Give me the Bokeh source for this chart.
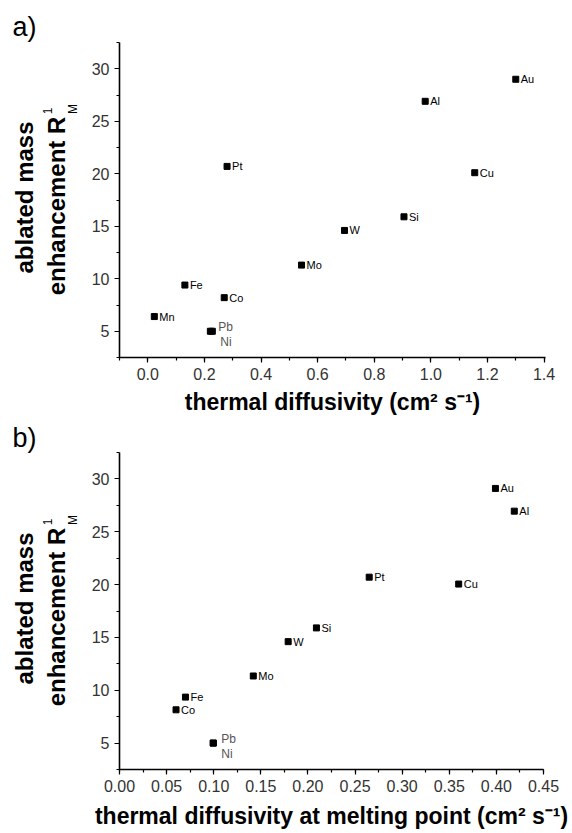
import math
from bokeh.plotting import figure
from bokeh.models import (ColumnDataSource, SingleIntervalTicker,
                          NumeralTickFormatter, Range1d, Title)
from bokeh.layouts import column, row
from bokeh.embed import file_html
from bokeh.resources import INLINE
from bokeh.core.properties import value

FONT = "Liberation Sans"

# ---- panel a) : thermal diffusivity ----
a_names = ["Au", "Al", "Pt", "Cu", "Si", "W", "Mo", "Fe", "Co", "Mn"]
a_diff = [1.30, 0.98, 0.28, 1.155, 0.905, 0.695, 0.543, 0.131, 0.270, 0.023]
a_rm = [29.0, 26.9, 20.7, 20.1, 15.9, 14.6, 11.3, 9.4, 8.2, 6.4]
a_pbni_names = ["Pb", "Ni"]
a_pbni_diff = [0.221, 0.228]
a_pbni_rm = [5.0, 5.0]

# ---- panel b) : thermal diffusivity at melting point ----
b_names = ["Au", "Al", "Pt", "Cu", "Si", "W", "Mo", "Fe", "Co"]
b_diff = [0.399, 0.419, 0.265, 0.360, 0.209, 0.179, 0.142, 0.070, 0.060]
b_rm = [29.1, 26.95, 20.7, 20.05, 15.9, 14.6, 11.35, 9.35, 8.15]
b_pbni_names = ["Pb", "Ni"]
b_pbni_diff = [0.0995, 0.0995]
b_pbni_rm = [5.0, 5.0]

a_xticks_interval = 0.2
b_xticks_interval = 0.05
y_interval = 5

STRIP = 88  # width of the left strip that holds the panel letter and y title


def make_strip(tag, height, top, bottom, title_standoff):
    """Narrow plot whose frame spans the same rows as the main frame (pixel units)."""
    s = figure(width=STRIP, height=height, output_backend="svg",
               toolbar_location=None, x_axis_location=None, y_axis_location=None,
               x_range=Range1d(0, STRIP), y_range=Range1d(bottom, height - top),
               min_border_left=0, min_border_right=0,
               min_border_top=top, min_border_bottom=bottom)
    s.outline_line_color = None
    s.xgrid.visible = False
    s.ygrid.visible = False
    s.add_layout(Title(text=tag, align="left", offset=12, text_font=FONT,
                       text_font_size="27px", text_font_style="normal",
                       text_color="black", standoff=title_standoff), "above")
    fh = height - top - bottom
    cy = top + fh / 2.0          # canvas y (from top) of the frame centre
    ang = math.pi / 2

    def t(x, ycanvas, text, size, bold=False):
        s.text(x=[x], y=[height - ycanvas], text=[text], angle=ang,
               text_font=value(FONT), text_font_size=size,
               text_font_style="bold" if bold else "normal",
               text_align="center", text_baseline="middle",
               text_color="black")

    t(24, cy - 2.5, "ablated mass", "24px", bold=True)
    t(56, cy + 6, "enhancement R", "24px", bold=True)
    t(47, cy - 89, "1", "12px")
    t(72.5, cy - 91, "M", "12px")
    return s


def make_panel(names, xs, ys, pn, px, py, xr, xint, xfmt, xlabel,
               height, top, bottom, left, right, lab_standoff):
    p = figure(width=572 - STRIP, height=height, output_backend="svg",
               toolbar_location=None,
               x_range=Range1d(*xr), y_range=Range1d(2.5, 32.5),
               min_border_top=top, min_border_bottom=bottom,
               min_border_left=left - STRIP, min_border_right=right)
    p.outline_line_color = None
    p.xgrid.visible = False
    p.ygrid.visible = False

    for ax in (p.xaxis[0], p.yaxis[0]):
        ax.axis_line_width = 1.6
        ax.axis_line_color = "black"
        ax.major_tick_line_color = "black"
        ax.minor_tick_line_color = "black"
        ax.major_tick_line_width = 1.2
        ax.minor_tick_line_width = 1.2
        ax.major_tick_out = 5
        ax.major_tick_in = 0
        ax.minor_tick_out = 3
        ax.minor_tick_in = 0
        ax.major_label_text_font = FONT
        ax.major_label_text_font_size = "16px"
        ax.major_label_text_color = "#333333"
        ax.major_label_standoff = 5

    p.xaxis.ticker = SingleIntervalTicker(interval=xint, num_minor_ticks=2)
    p.yaxis.ticker = SingleIntervalTicker(interval=y_interval, num_minor_ticks=2)
    p.xaxis.formatter = NumeralTickFormatter(format=xfmt)
    p.xaxis.axis_label = xlabel
    p.xaxis.axis_label_text_font = FONT
    p.xaxis.axis_label_text_font_size = "23px"
    p.xaxis.axis_label_text_font_style = "bold"
    p.xaxis.axis_label_text_color = "black"
    p.xaxis.axis_label_standoff = lab_standoff

    src = ColumnDataSource(dict(x=xs, y=ys, name=names))
    p.scatter("x", "y", source=src, marker="square", size=6,
              fill_color="black", line_color="black")
    p.text("x", "y", text="name", source=src, x_offset=5, text_baseline="middle",
           text_font=value(FONT), text_font_size="11px", text_color="black")

    src2 = ColumnDataSource(dict(x=px, y=py, name=pn))
    p.scatter("x", "y", source=src2, marker="square", size=6,
              fill_color="black", line_color="black")
    p.text(x=[px[0]], y=[py[0]], text=[pn[0]], x_offset=8, y_offset=-4,
           text_baseline="alphabetic", text_font=value(FONT),
           text_font_size="12px", text_color="#555555")
    p.text(x=[px[1]], y=[py[1]], text=[pn[1]], x_offset=8, y_offset=11,
           text_baseline="alphabetic", text_font=value(FONT),
           text_font_size="12px", text_color="#555555")
    return p


pa = make_panel(a_names, a_diff, a_rm, a_pbni_names, a_pbni_diff, a_pbni_rm,
                (-0.1, 1.405), a_xticks_interval, "0.0",
                "thermal diffusivity (cm² s⁻¹)", 420, 42, 63, 119, 27, 6)
sa = make_strip("a)", 420, 42, 63, 2)
pb = make_panel(b_names, b_diff, b_rm, b_pbni_names, b_pbni_diff, b_pbni_rm,
                (0.0, 0.45), b_xticks_interval, "0.00",
                "thermal diffusivity at melting point (cm² s⁻¹)", 413, 32, 64, 118, 29, 8)
sb = make_strip("b)", 413, 32, 64, 0)

layout = column(row(sa, pa, spacing=0), row(sb, pb, spacing=0), spacing=0)
open("out.html", "w").write(file_html(layout, INLINE))
